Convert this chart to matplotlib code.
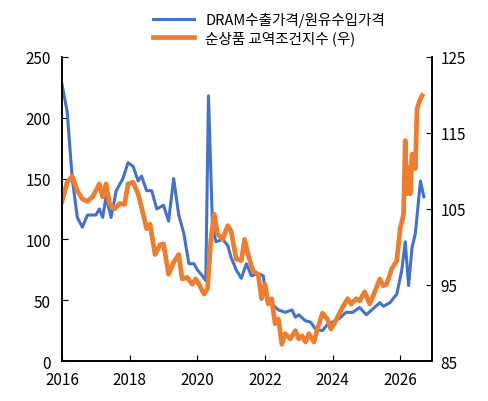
import matplotlib
matplotlib.use("Agg")
import matplotlib.pyplot as plt

plt.rcParams['font.family'] = ['Noto Sans CJK KR', 'DejaVu Sans']

# DRAM export price / crude import price (left axis)
dram_t = [2016.0, 2016.15, 2016.3, 2016.45, 2016.6, 2016.75, 2017.0, 2017.1, 2017.2, 2017.3,
          2017.45, 2017.6, 2017.8, 2017.95, 2018.1, 2018.25, 2018.35, 2018.5, 2018.65, 2018.8,
          2019.0, 2019.15, 2019.3, 2019.45, 2019.6, 2019.75, 2019.9, 2020.0, 2020.15, 2020.25,
          2020.33, 2020.45, 2020.55, 2020.75, 2020.9, 2021.0, 2021.15, 2021.3, 2021.45, 2021.6,
          2021.8, 2021.95, 2022.05, 2022.2, 2022.4, 2022.6, 2022.8, 2022.9, 2023.0, 2023.2,
          2023.35, 2023.5, 2023.7, 2023.85, 2024.0, 2024.2, 2024.4, 2024.6, 2024.8, 2025.0,
          2025.2, 2025.4, 2025.5, 2025.7, 2025.9, 2026.05, 2026.15, 2026.25, 2026.35, 2026.45,
          2026.6, 2026.7]
dram_v = [227, 205, 150, 118, 110, 120, 120, 125, 118, 135,
          118, 140, 150, 163, 160, 148, 152, 140, 140, 125,
          128, 115, 150, 120, 105, 80, 80, 75, 70, 66,
          218, 110, 98, 100, 95, 85, 75, 68, 80, 70,
          72, 70, 50, 47, 42, 40, 42, 36, 38, 33,
          32, 26, 25, 30, 32, 35, 40, 40, 44, 38,
          43, 48, 45, 48, 55, 75, 98, 62, 93, 105,
          148, 135]

# net barter terms of trade index (right axis)
tot_t = [2016.0, 2016.15, 2016.3, 2016.45, 2016.6, 2016.75, 2016.9, 2017.0, 2017.1, 2017.2,
         2017.3, 2017.4, 2017.55, 2017.7, 2017.85, 2017.95, 2018.1, 2018.25, 2018.4, 2018.5,
         2018.6, 2018.75, 2018.9, 2019.0, 2019.15, 2019.3, 2019.45, 2019.55, 2019.7, 2019.85,
         2019.95, 2020.05, 2020.2, 2020.3, 2020.4, 2020.5, 2020.6, 2020.75, 2020.9, 2021.0,
         2021.15, 2021.3, 2021.4, 2021.5, 2021.65, 2021.8, 2021.9, 2022.0, 2022.1, 2022.2,
         2022.3, 2022.4, 2022.5, 2022.6, 2022.75, 2022.9, 2023.0, 2023.1, 2023.2, 2023.3,
         2023.45, 2023.55, 2023.7, 2023.85, 2023.95, 2024.05, 2024.15, 2024.3, 2024.45, 2024.55,
         2024.7, 2024.8, 2024.95, 2025.1, 2025.25, 2025.4, 2025.5, 2025.6, 2025.75, 2025.9,
         2026.0, 2026.1, 2026.15, 2026.2, 2026.25, 2026.3, 2026.35, 2026.45, 2026.5, 2026.6,
         2026.65]
tot_v = [106.0, 108.5, 109.3, 107.4, 106.3, 106.0, 106.6, 107.4, 108.3, 106.6,
         108.3, 105.7, 105.0, 105.7, 105.6, 108.3, 108.5, 107.0, 104.3, 102.4,
         103.0, 99.0, 100.3, 100.4, 96.4, 98.0, 99.0, 95.8, 96.0, 95.1,
         95.8, 95.1, 93.8, 94.5, 101.0, 104.3, 101.7, 101.0, 102.8, 102.1,
         98.4, 98.2, 101.0, 99.0, 96.8, 96.4, 93.2, 95.1, 92.5, 93.2,
         89.9, 90.5, 87.2, 88.6, 87.9, 89.0, 87.9, 88.3, 87.5, 88.6,
         87.5, 89.2, 91.3, 90.5, 89.2, 89.9, 90.8, 92.1, 93.2, 92.5,
         93.2, 92.9, 94.1, 92.5, 94.1, 95.8, 94.9, 95.1, 97.1, 98.2,
         102.4, 104.3, 114.0, 107.0, 110.5, 107.0, 112.2, 110.3, 118.2, 119.5,
         119.9]

fig = plt.figure(figsize=(4.89, 4.02), dpi=100)
ax = fig.add_axes([0.127, 0.0995, 0.757, 0.7565])
ax2 = ax.twinx()

l1, = ax.plot(dram_t, dram_v, color="#4472C4", lw=2.2, label="DRAM수출가격/원유수입가격")
l2, = ax2.plot(tot_t, tot_v, color="#ED7D31", lw=3.4, label="순상품 교역조건지수 (우)")

ax.set_xlim(2016, 2026.95)
ax.set_ylim(0, 250)
ax2.set_ylim(85, 125)
ax.set_xticks(range(2016, 2027, 2))
ax.set_yticks(range(0, 251, 50))
ax2.set_yticks(range(85, 126, 10))
for a in (ax, ax2):
    a.spines["top"].set_visible(False)
    a.tick_params(direction="in", labelsize=11, length=4)
    for s in a.spines.values():
        s.set_linewidth(1.2)
ax.tick_params(axis="x", pad=7)
ax.tick_params(axis="y", pad=8)
ax2.tick_params(axis="y", pad=6)

fig.legend(handles=[l1, l2], loc="upper center", bbox_to_anchor=(0.55, 1.0),
           frameon=False, fontsize=10.5, handlelength=2.8, labelspacing=0.2)

fig.savefig("out.png", dpi=100)
